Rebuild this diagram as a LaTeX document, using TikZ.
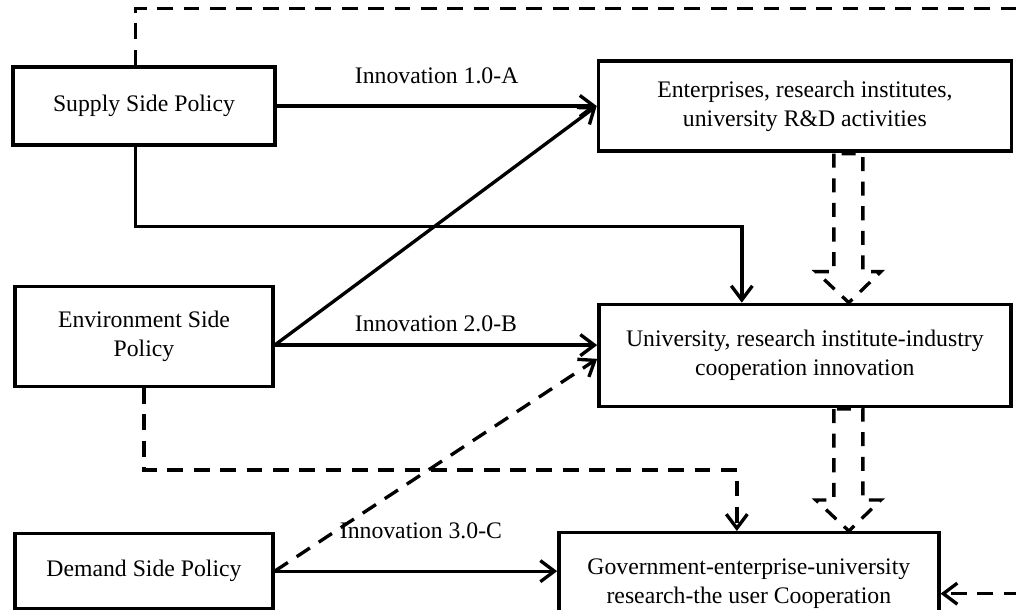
\documentclass[tikz,border=0pt]{standalone}
\usepackage{fontspec}
\setmainfont{Liberation Serif}
\usetikzlibrary{calc,positioning,arrows.meta}

\begin{document}
\begin{tikzpicture}[
      clear/.style={draw=none,fill=none,align=center},
      box/.style={draw, rectangle, line width=1.9pt, align=center},
      every node/.style={font=\fontsize{13.5}{16.5}\selectfont},
      link/.style={draw, -{Straight Barb[length=8pt,width=12pt]}, line width=1.9pt},
      every edge/.style={link},
      dashline/.style={dash pattern=on 9pt off 6pt},
      hollow/.style={draw, line width=1.9pt, dash pattern=on 8pt off 6pt}
   ]
      \useasboundingbox (0,0) rectangle (20.32,12.18);

      % policy side
      \node[box, minimum width=5.24cm, minimum height=1.56cm] (P1) at (2.88,10.06) {Supply Side Policy};
      \node[box, minimum width=5.16cm, minimum height=2cm, below=2.76cm of P1] (P2) {Environment Side\\Policy};
      \node[box, minimum width=5.16cm, minimum height=1.5cm, below=2.88cm of P2] (P3) {Demand Side Policy};

      % innovation side
      \node[box, minimum width=8.26cm, minimum height=1.8cm, right=6.4cm of P1] (I1) {Enterprises, research institutes,\\university R\&D activities};
      \node[box, minimum width=8.24cm, minimum height=2.04cm, below=3cm of I1] (I2) {University, research institute-industry\\cooperation innovation};
      \node[box, minimum width=7.6cm, minimum height=2.04cm, below=2.46cm of I2, xshift=-1.12cm] (I3) {Government-enterprise-university\\research-the user Cooperation};

      \path (P1) edge node[clear,above=0.3cm] {Innovation 1.0-A} (I1);
      \path ([yshift=-5pt]P2.east) edge (I1.west);
      \path ([yshift=-5pt]P2.east) edge node[clear,above=0.12cm] {Innovation 2.0-B} ([yshift=-5pt]P2.east -| I2.west);
      \path (P3.east) edge node[clear,above=0.5cm,xshift=0.1cm] {Innovation 3.0-C} (P3.east -| I3.west);
      \draw[link] ([xshift=-5pt]P1.south) -- ++(0,-1.6) -| ([xshift=-1.26cm]I2.north);

      \begin{scope}[every edge/.style={link,dashline}]
         \path (P3.east) edge ([yshift=-2pt]I2.west);
         \draw[link,dashline] (P2.south) -- ++(0,-1.64) -| ([xshift=-0.24cm]I3.north);
         \draw[link,dashline] ([xshift=-5pt]P1.north) -- ++(0,1.14) -- ++(18.5,0) |- ([yshift=-0.2cm]I3.east);
      \end{scope}

      % big hollow arrows between the levels
      \foreach \a/\b in {I1/I2,I2/I3}
         \draw[hollow] let \p1=(\a.south), \p2=(\b.north) in
            (\x1+0.58cm,\y1-0.02cm) -- (\x1+0.58cm,\y2+0.62cm) -- (\x1+0.22cm,\y2+0.62cm)
            -- (\x1+0.88cm,\y2) -- (\x1+1.52cm,\y2+0.62cm) -- (\x1+1.16cm,\y2+0.62cm)
            -- (\x1+1.16cm,\y1-0.02cm) -- cycle;
   \end{tikzpicture}
\end{document}
